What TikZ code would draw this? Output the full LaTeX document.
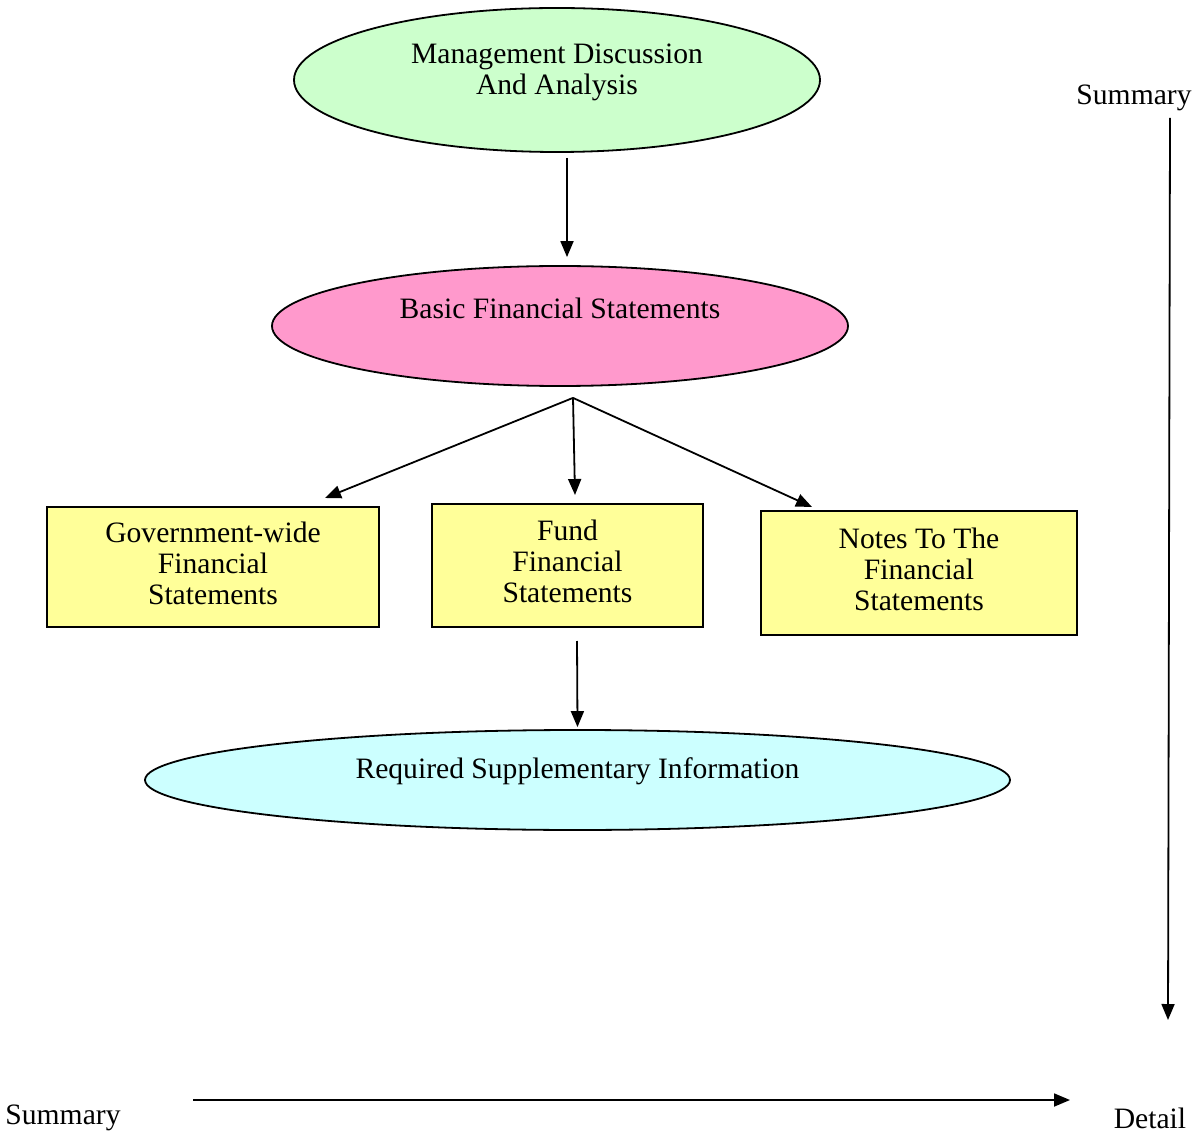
\documentclass[tikz,border=0pt]{standalone}
\usepackage{fontspec}
\setmainfont{Liberation Serif}
\usetikzlibrary{arrows.meta,positioning,shapes.geometric}
\definecolor{mdagreen}{HTML}{CCFFCC}
\definecolor{bfspink}{HTML}{FF99CC}
\definecolor{boxyellow}{HTML}{FFFF99}
\definecolor{rsicyan}{HTML}{CCFFFF}
\tikzset{
    %Define standard arrow tip
    >={Triangle[length=8pt,width=6.5pt]},
    font=\fontsize{14.8}{15.5}\selectfont,
    %Define style for ellipses
    oval/.style={
           ellipse,
           draw=black, line width=0.9pt,
           inner sep=0pt},
    %Define style for boxes
    kasten/.style={
           rectangle,
           draw=black, line width=1pt,
           fill=boxyellow,
           inner sep=0pt,
           text depth=4pt,
           align=center},
    % Define arrow style
    pil/.style={
           ->,
           line width=0.9pt},
    % Define text style
    txt/.style={align=center, inner sep=0pt}
}

\begin{document}
\begin{tikzpicture}[x=0.5pt, y=-0.5pt]
  \useasboundingbox (0,0) rectangle (1193,1133);
  % ellipses
  \node[oval, fill=mdagreen, minimum width=263pt, minimum height=72pt] (mda) at (557,80) {};
  \node[txt] (mdaText) at (557,72) {Management Discussion\\And Analysis};
  \node[oval, fill=bfspink, minimum width=288pt, minimum height=60pt] (bfs) at (560,326) {};
  \node[txt] (bfsText) at (560,308) {Basic Financial Statements};
  \node[oval, fill=rsicyan, minimum width=432.5pt, minimum height=50pt] (rsi) at (577.5,780) {};
  \node[txt] (rsiText) at (577.5,771) {Required Supplementary Information};
  % boxes
  \node[kasten, minimum width=166pt, minimum height=60pt] (gov) at (213,567) {Government-wide\\Financial\\Statements};
  \node[kasten, minimum width=135.5pt, minimum height=61.5pt] (fund) at (567.5,565.5) {Fund\\Financial\\Statements};
  \node[kasten, minimum width=158pt, minimum height=62pt] (notes) at (919,573) {Notes To The\\Financial\\Statements};
  % arrows
  \coordinate (fork) at ([xshift=6.5pt,yshift=-5.5pt]bfs.south);
  \draw[pil] ([xshift=5pt,yshift=-2.5pt]mda.south) -- ([xshift=3.5pt,yshift=4pt]bfs.north);
  \draw[pil] (fork) -- ([xshift=56pt,yshift=4pt]gov.north);
  \draw[pil] (fork) -- ([xshift=3.75pt,yshift=4pt]fund.north);
  \draw[pil] (fork) -- ([xshift=-53.5pt,yshift=1.5pt]notes.north);
  \draw[pil] ([xshift=4.75pt,yshift=-6.5pt]fund.south) -- ([yshift=1pt]rsi.north);
  % summary / detail axes
  \node[txt] (sumTop) at (1134,98) {Summary};
  \node[txt] (sumLeft) at (63,1118) {Summary};
  \node[txt] (detail) at (1150,1118) {Detail};
  \coordinate (vTop) at (1170,118);
  \coordinate (vBot) at (1168,1020);
  \coordinate (hLeft) at (193,1100);
  \coordinate (hRight) at (1070,1100);
  \draw[pil] (vTop) -- (vBot);
  \draw[pil] (hLeft) -- (hRight);
\end{tikzpicture}
\end{document}
